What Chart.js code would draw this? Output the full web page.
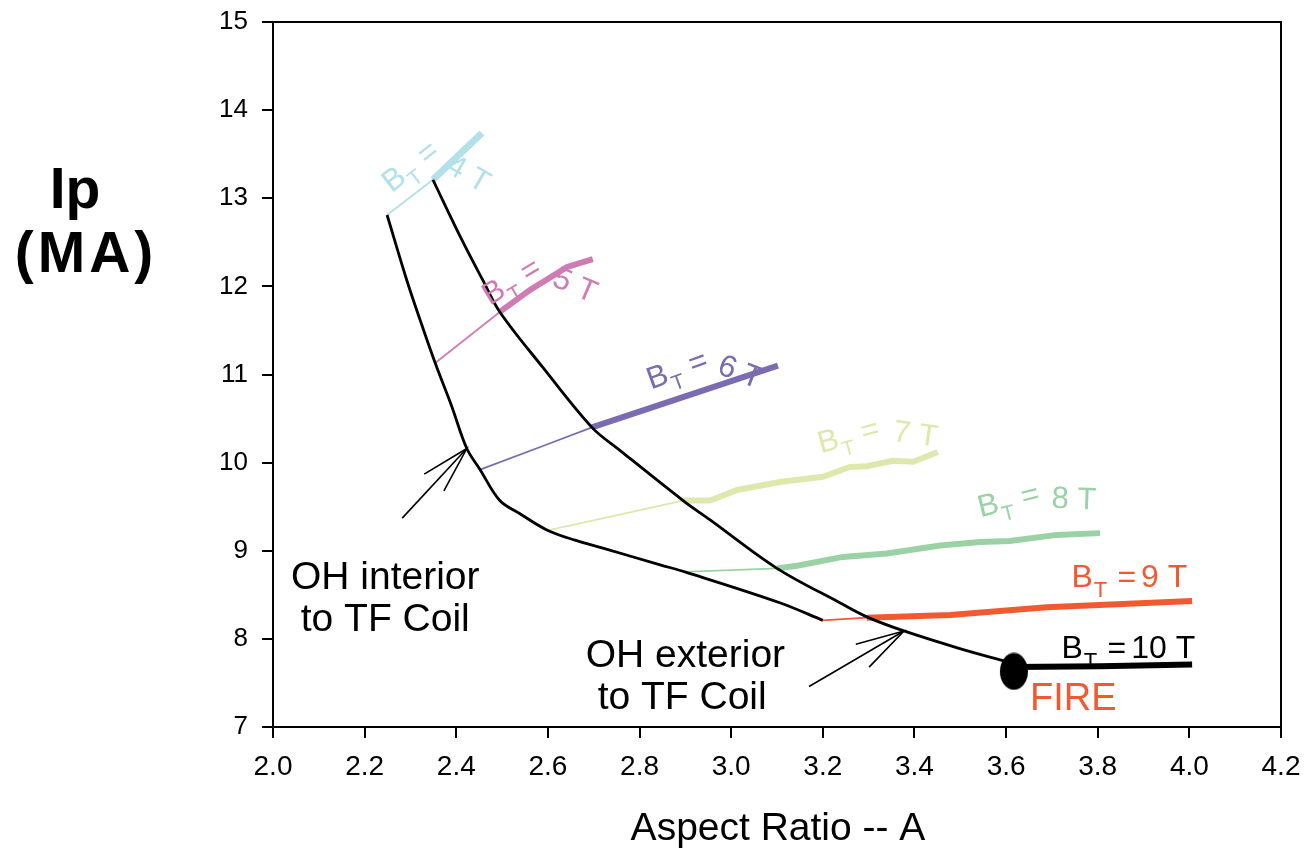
<!DOCTYPE html>
<html>
<head>
<meta charset="utf-8">
<script src="https://cdn.jsdelivr.net/npm/chart.js@4/dist/chart.umd.min.js"></script>
<style>
  html, body { margin: 0; padding: 0; background: #fff; }
  canvas { display: block; }
</style>
</head>
<body>
<canvas id="chart" width="1305" height="851"></canvas>
<script>
// tick labels
const xTicks = [2.0, 2.2, 2.4, 2.6, 2.8, 3.0, 3.2, 3.4, 3.6, 3.8, 4.0, 4.2];
const yTicks = [7, 8, 9, 10, 11, 12, 13, 14, 15];

// the two boundary curves [A, Ip]
const innerCurve = [[2.249,12.81],[2.292,12.07],[2.321,11.62],[2.354,11.13],[2.390,10.64],[2.423,10.16],[2.452,9.92],[2.495,9.57],[2.539,9.42],[2.600,9.23],[2.659,9.12],[2.720,9.03],[2.845,8.84],[2.899,8.76],[3.106,8.41],[3.200,8.21]];
const outerCurve = [[2.349,13.21],[2.412,12.53],[2.458,12.07],[2.495,11.71],[2.589,11.08],[2.696,10.40],[2.757,10.14],[2.895,9.57],[2.954,9.35],[3.100,8.80],[3.237,8.41],[3.296,8.25],[3.377,8.09],[3.499,7.89],[3.602,7.74]];

// BT lines: thin part between the curves, thick part beyond
const bt4Thin = [[2.249,12.81],[2.349,13.21]];
const bt4Thick = [[2.349,13.21],[2.456,13.74]];
const bt5Thin = [[2.354,11.13],[2.495,11.71]];
const bt5Thick = [[2.495,11.71],[2.561,11.96],[2.642,12.22],[2.698,12.31]];
const bt6Thin = [[2.452,9.92],[2.605,10.22],[2.696,10.40]];
const bt6Thick = [[2.696,10.40],[3.102,11.10]];
const bt7Thin = [[2.600,9.23],[2.895,9.57]];
const bt7Thick = [[2.895,9.57],[2.954,9.57],[3.013,9.69],[3.106,9.78],[3.200,9.84],[3.259,9.95],[3.296,9.96],[3.353,10.02],[3.397,10.01],[3.451,10.12]];
const bt8Thin = [[2.899,8.76],[3.100,8.80]];
const bt8Thick = [[3.100,8.80],[3.144,8.83],[3.244,8.93],[3.340,8.97],[3.456,9.06],[3.543,9.10],[3.608,9.11],[3.711,9.18],[3.805,9.20]];
const bt9Thin = [[3.200,8.21],[3.296,8.24]];
const bt9Thick = [[3.296,8.24],[3.478,8.27],[3.689,8.36],[4.006,8.43]];
const bt10Thick = [[3.617,7.68],[3.805,7.69],[4.006,7.71]];
const fireDot = [[3.617,7.63]];

// arrows pointing at the curves
const arrowInner = [[2.330,9.87],[2.423,10.16],[2.373,9.68]];
const arrowInnerTail = [[2.282,9.37],[2.423,10.16]];
const arrowOuter = [[3.272,7.94],[3.377,8.09],[3.301,7.68]];
const arrowOuterTail = [[3.170,7.46],[3.377,8.09]];

const C4 = '#b3e0e9', C5 = '#cf7cb2', C6 = '#7b6bb1', C7 = '#dfe8ac', C8 = '#9ad2a5', C9 = '#f15a31';
const FONT = '"Liberation Sans", Arial, sans-serif';

const xy = arr => arr.map(p => ({ x: p[0], y: p[1] }));

function line(data, color, width, smooth) {
    return {
        data: xy(data),
        borderColor: color,
        borderWidth: width,
        pointRadius: 0,
        fill: false,
        tension: smooth ? 0.35 : 0
    };
}

// ellipse used as the FIRE point
const dotImg = document.createElement('canvas');
dotImg.width = 30; dotImg.height = 38;
const g = dotImg.getContext('2d');
g.fillStyle = '#000';
g.beginPath();
g.ellipse(15, 19, 14, 18.5, 0, 0, Math.PI * 2);
g.fill();

// "B_T = n T" label, first part and second part have their own angle
function btLabel(ctx, bx, by, a1, nx, ny, a2, num, color, size) {
    const sub = Math.round(size * 0.68);
    ctx.save();
    ctx.fillStyle = color;
    ctx.textBaseline = 'alphabetic';
    ctx.textAlign = 'left';
    ctx.font = size + 'px ' + FONT;
    const wB = ctx.measureText('B').width;
    const cap = size * 0.36;
    ctx.translate(bx, by);
    ctx.rotate(a1 * Math.PI / 180);
    ctx.fillText('B', -wB / 2, cap);
    ctx.font = sub + 'px ' + FONT;
    const wT = ctx.measureText('T').width;
    ctx.fillText('T', wB / 2 + 1, cap + size * 0.3);
    ctx.font = size + 'px ' + FONT;
    ctx.fillText('=', wB / 2 + wT + size * 0.35, cap);
    ctx.restore();

    ctx.save();
    ctx.fillStyle = color;
    ctx.font = size + 'px ' + FONT;
    const wN = ctx.measureText(num).width;
    ctx.translate(nx, ny);
    ctx.rotate(a2 * Math.PI / 180);
    ctx.fillText(num + ' T', -wN / 2, cap);
    ctx.restore();
}

const textPlugin = {
    id: 'texts',
    afterDraw(chart) {
        const ctx = chart.ctx;
        const xs = chart.scales.x, ys = chart.scales.y;
        const X = v => xs.getPixelForValue(v);
        const Y = v => ys.getPixelForValue(v);
        const a = chart.chartArea;

        // frame on top and right
        ctx.save();
        ctx.strokeStyle = '#000';
        ctx.lineWidth = 2;
        ctx.beginPath();
        ctx.moveTo(a.left, a.top);
        ctx.lineTo(a.right, a.top);
        ctx.lineTo(a.right, a.bottom);
        ctx.stroke();
        ctx.restore();

        // axis titles
        ctx.save();
        ctx.fillStyle = '#000';
        ctx.textAlign = 'center';
        ctx.textBaseline = 'alphabetic';
        ctx.font = 'bold 57px ' + FONT;
        ctx.fillText('Ip', 75, 208);
        ctx.letterSpacing = '4px';
        ctx.fillText('(MA)', 86, 272);
        ctx.letterSpacing = '0px';
        ctx.font = '39px ' + FONT;
        ctx.fillText('Aspect Ratio -- A', (a.left + a.right) / 2 + 1, 840);

        // region notes
        ctx.fillText('OH interior', X(2.245), Y(8.564));
        ctx.fillText('to TF Coil', X(2.245), Y(8.088));
        ctx.fillText('OH exterior', X(2.9), Y(7.68));
        ctx.fillText('to TF Coil', X(2.893), Y(7.203));
        ctx.restore();

        btLabel(ctx, X(2.262), Y(13.23), -38, X(2.402), Y(13.37), 30, '4', C4, 31);
        btLabel(ctx, X(2.480), Y(11.95), -31, X(2.633), Y(12.09), 23, '5', C5, 31);
        btLabel(ctx, X(2.838), Y(10.99), -20, X(2.993), Y(11.10), 21, '6', C6, 31);
        btLabel(ctx, X(3.211), Y(10.26), -15, X(3.373), Y(10.36), 8, '7', C7, 31);
        btLabel(ctx, X(3.560), Y(9.53), -14, X(3.718), Y(9.61), 2, '8', C8, 31);
        btLabel(ctx, X(3.766), Y(8.72), 0, X(3.914), Y(8.72), 0, '9', C9, 32);
        btLabel(ctx, X(3.744), Y(7.91), 0, X(3.912), Y(7.91), 0, '10', '#000', 32);

        ctx.save();
        ctx.fillStyle = C9;
        ctx.font = '38px ' + FONT;
        ctx.textAlign = 'left';
        ctx.fillText('FIRE', X(3.652), Y(7.19));
        ctx.restore();
    }
};

new Chart(document.getElementById('chart'), {
    type: 'line',
    data: {
        datasets: [
            {
                data: xy(fireDot),
                showLine: false,
                pointStyle: dotImg,
                pointRadius: 16,
                borderWidth: 0
            },
            line(innerCurve, '#000', 2.8, true),
            line(outerCurve, '#000', 2.8, true),
            line(arrowInner, '#000', 1.6),
            line(arrowInnerTail, '#000', 1.6),
            line(arrowOuter, '#000', 1.6),
            line(arrowOuterTail, '#000', 1.6),
            line(bt10Thick, '#000', 6),
            line(bt4Thin, C4, 1.8),
            line(bt4Thick, C4, 7),
            line(bt5Thin, C5, 1.8),
            line(bt5Thick, C5, 6),
            line(bt6Thin, C6, 1.8),
            line(bt6Thick, C6, 6),
            line(bt7Thin, C7, 1.8),
            line(bt7Thick, C7, 6),
            line(bt8Thin, C8, 1.8),
            line(bt8Thick, C8, 6),
            line(bt9Thin, C9, 1.8),
            line(bt9Thick, C9, 6)
        ]
    },
    options: {
        responsive: false,
        animation: false,
        devicePixelRatio: 1,
        layout: { padding: { top: 22, right: 24, left: 0, bottom: 0 } },
        plugins: {
            legend: { display: false },
            tooltip: { enabled: false }
        },
        scales: {
            x: {
                type: 'linear',
                min: xTicks[0],
                max: xTicks[xTicks.length - 1],
                afterBuildTicks: s => { s.ticks = xTicks.map(v => ({ value: v })); },
                afterFit: s => { s.height = 124; s.paddingLeft = 0; s.paddingRight = 0; },
                ticks: {
                    callback: v => v.toFixed(1),
                    font: { family: FONT, size: 28 },
                    color: '#000',
                    padding: 12,
                    maxRotation: 0,
                    autoSkip: false
                },
                grid: { drawOnChartArea: false, tickLength: 11, color: '#000', lineWidth: 2 },
                border: { color: '#000', width: 2 }
            },
            y: {
                min: yTicks[0],
                max: yTicks[yTicks.length - 1],
                afterBuildTicks: s => { s.ticks = yTicks.map(v => ({ value: v })); },
                afterFit: s => { s.width = 273; s.paddingTop = 0; s.paddingBottom = 0; },
                ticks: {
                    font: { family: FONT, size: 26 },
                    color: '#000',
                    padding: 14
                },
                grid: { drawOnChartArea: false, tickLength: 11, color: '#000', lineWidth: 2 },
                border: { color: '#000', width: 2 }
            }
        }
    },
    plugins: [textPlugin]
});
</script>
</body>
</html>
